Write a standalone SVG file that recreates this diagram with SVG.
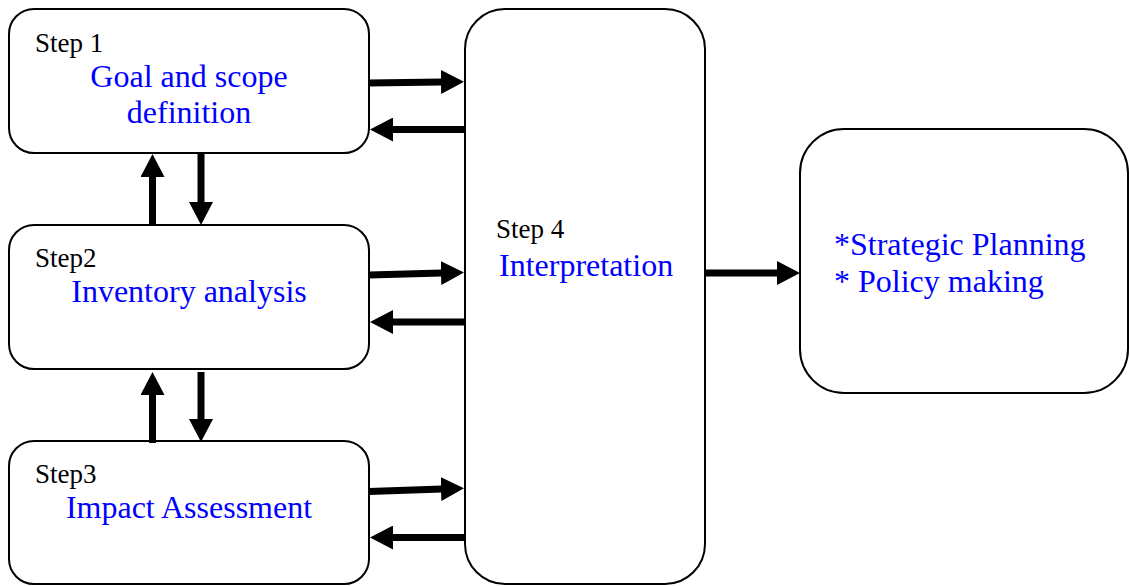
<svg xmlns="http://www.w3.org/2000/svg" width="1130" height="586" viewBox="0 0 1130 586">
  <style>
    .box { fill: #ffffff; stroke: #000000; stroke-width: 2; }
    .step { font-family: "Liberation Serif", "Times New Roman", serif; font-size: 27px; fill: #000000; }
    .title { font-family: "Liberation Serif", "Times New Roman", serif; font-size: 32px; fill: #0000ff; }
    .mid { text-anchor: middle; }
    .arrow { stroke: #000000; stroke-width: 7; fill: none; marker-end: url(#head); }
  </style>
  <defs>
    <marker id="head" markerUnits="userSpaceOnUse" markerWidth="23" markerHeight="24" refX="1" refY="12" orient="auto">
      <path d="M0,0 L23,12 L0,24 Z" fill="#000000"/>
    </marker>
  </defs>
  <rect width="1130" height="586" fill="#ffffff"/>

  <g id="step1">
    <rect class="box" x="9" y="9" width="360" height="144" rx="25" ry="25"/>
    <text class="step" x="35" y="52">Step 1</text>
    <text class="title mid" x="189" y="87">Goal and scope</text>
    <text class="title mid" x="189" y="123">definition</text>
  </g>

  <g id="step2">
    <rect class="box" x="9" y="225" width="360" height="144" rx="25" ry="25"/>
    <text class="step" x="35" y="267">Step2</text>
    <text class="title mid" x="189" y="302">Inventory analysis</text>
  </g>

  <g id="step3">
    <rect class="box" x="9" y="441" width="360" height="143" rx="25" ry="25"/>
    <text class="step" x="35" y="483">Step3</text>
    <text class="title mid" x="189" y="518">Impact Assessment</text>
  </g>

  <g id="step4">
    <rect class="box" x="465" y="9" width="240" height="575" rx="40" ry="40"/>
    <text class="step" x="496" y="238">Step 4</text>
    <text class="title" x="499" y="276">Interpretation</text>
  </g>

  <g id="outcomes">
    <rect class="box" x="800" y="129" width="328" height="264" rx="44" ry="44"/>
    <text class="title" x="834" y="255">*Strategic Planning</text>
    <text class="title" x="834" y="292">* Policy making</text>
  </g>

  <g id="connectors">
    <!-- steps 1-3 to interpretation and back -->
    <line class="arrow" x1="369" y1="83" x2="442" y2="82"/>
    <line class="arrow" x1="465" y1="129.5" x2="392" y2="129.5"/>
    <line class="arrow" x1="369" y1="275" x2="442" y2="273"/>
    <line class="arrow" x1="465" y1="322" x2="392" y2="322"/>
    <line class="arrow" x1="369" y1="491.5" x2="442" y2="489"/>
    <line class="arrow" x1="465" y1="537.5" x2="392" y2="537.5"/>
    <!-- between steps -->
    <line class="arrow" x1="152.5" y1="225" x2="152.5" y2="176"/>
    <line class="arrow" x1="201" y1="153" x2="201" y2="203"/>
    <line class="arrow" x1="152.5" y1="443" x2="152.5" y2="394"/>
    <line class="arrow" x1="201" y1="372" x2="201" y2="420"/>
    <!-- interpretation to outcomes -->
    <line class="arrow" x1="705" y1="273" x2="778" y2="273"/>
  </g>
</svg>
